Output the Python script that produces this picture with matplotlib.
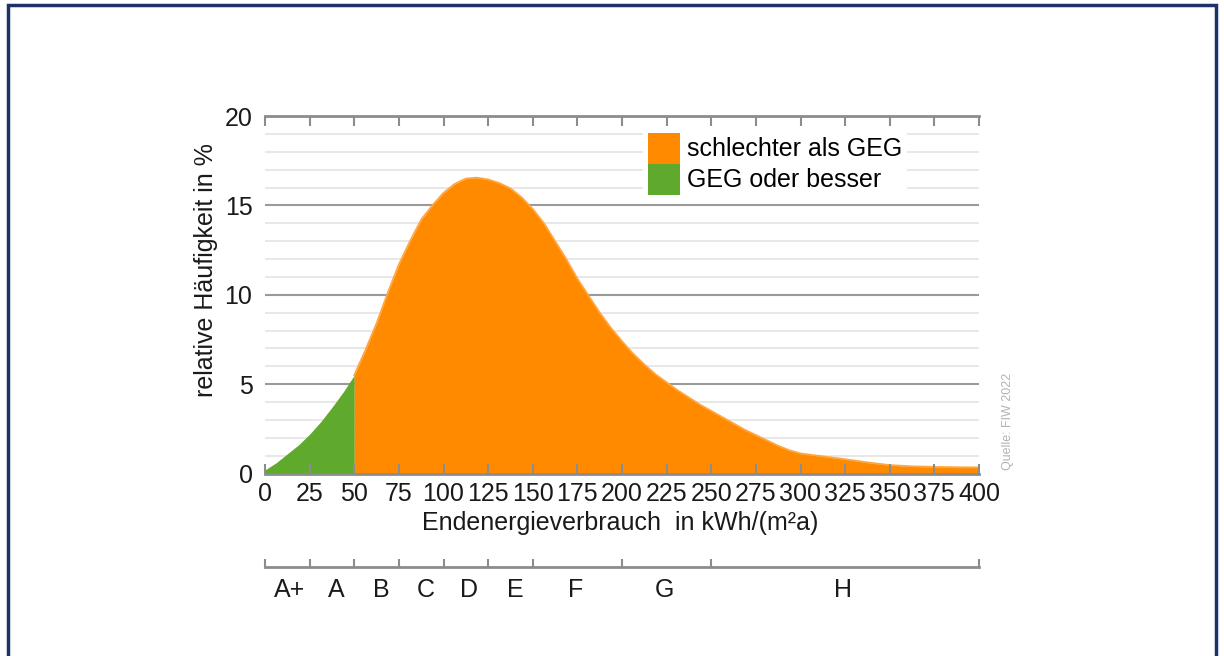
import matplotlib.pyplot as plt
from matplotlib.patches import Patch, Rectangle

plt.rcParams['font.family'] = ['Liberation Sans', 'DejaVu Sans']

# Endenergieverbrauch (kWh/(m2a)) and relative frequency (%)
energy = [0, 6.25, 12.5, 18.75, 25, 31.25, 37.5, 43.75, 50, 56.25, 62.5,
          68.75, 75, 81.25, 87.5, 93.75, 100, 106.25, 112.5, 118.75, 125,
          131.25, 137.5, 143.75, 150, 156.25, 162.5, 168.75, 175, 181.25,
          187.5, 193.75, 200, 206.25, 212.5, 218.75, 225, 231.25, 237.5,
          243.75, 250, 256.25, 262.5, 268.75, 275, 281.25, 287.5, 293.75,
          300, 312.5, 325, 337.5, 350, 362.5, 375, 387.5, 400]
share = [0.2, 0.6, 1.1, 1.6, 2.2, 2.9, 3.7, 4.55, 5.5, 6.9, 8.4,
         10.1, 11.7, 13.0, 14.2, 15.0, 15.7, 16.2, 16.5, 16.55, 16.45,
         16.25, 15.95, 15.45, 14.8, 14.0, 13.0, 12.0, 10.9, 9.95,
         9.0, 8.15, 7.4, 6.7, 6.1, 5.55, 5.1, 4.65, 4.25,
         3.85, 3.5, 3.15, 2.8, 2.45, 2.15, 1.85, 1.55, 1.3,
         1.12, 0.96, 0.8, 0.62, 0.47, 0.4, 0.37, 0.35, 0.34]
geg_limit = 50

x_ticks = list(range(0, 401, 25))
y_ticks = [0, 5, 10, 15, 20]

# energy efficiency classes
class_bounds = [0, 25, 50, 75, 100, 125, 150, 200, 250, 400]
class_names = ['A+', 'A', 'B', 'C', 'D', 'E', 'F', 'G', 'H']
class_label_x = [14, 40, 65, 90, 114.5, 140, 174, 224, 324]

orange = '#ff8a00'
green = '#5fa92c'
grey = '#8c8c8c'

fig = plt.figure(figsize=(12.24, 6.56), dpi=100)
W, H = 1224, 656

# navy frame (bottom edge is outside the picture)
fig.patches.append(Rectangle((8 / W, -0.05), 1208 / W, (656 - 5) / H + 0.05,
                             transform=fig.transFigure, fill=False,
                             edgecolor='#1d3266', lw=2.5))

ax = fig.add_axes([265 / W, (H - 473.5) / H, 714 / W, 357.5 / H])
ax.set_xlim(0, 400)
ax.set_ylim(0, 20)

# grid lines
for v in range(1, 20):
    if v % 5 == 0:
        ax.axhline(v, color='#9a9a9a', lw=1.5, zorder=0.5)
    else:
        ax.axhline(v, color='#e2e2e2', lw=1.1, zorder=0.5)

i50 = energy.index(geg_limit)
ax.fill_between(energy[:i50 + 1], share[:i50 + 1], color=green, lw=0, zorder=1)
ax.fill_between(energy[i50:], share[i50:], color=orange, lw=0, zorder=1)
ax.plot(energy[i50:], share[i50:], color='#ffa640', lw=1.3, zorder=1.1,
        solid_joinstyle='round')

for s in ['left', 'right']:
    ax.spines[s].set_visible(False)
for s in ['top', 'bottom']:
    ax.spines[s].set_color(grey)
    ax.spines[s].set_linewidth(2)

ax.set_xticks(x_ticks)
ax.set_yticks(y_ticks)
ax.tick_params(axis='x', direction='in', top=True, length=7, width=1.5,
               color=grey, labelsize=18, pad=6, labelcolor='#1a1a1a')
ax.tick_params(axis='y', length=0, labelsize=18, pad=9, labelcolor='#1a1a1a')

ax.set_ylabel('relative Häufigkeit in %', fontsize=18, color='#1a1a1a')
ax.yaxis.set_label_coords(-0.066, 0.57)
ax.text(0.497, -0.138, 'Endenergieverbrauch  in kWh/(m²a)', transform=ax.transAxes,
        ha='center', va='center', fontsize=18, color='#1a1a1a')

handles = [Patch(facecolor=orange, label='schlechter als GEG'),
           Patch(facecolor=green, label='GEG oder besser')]
leg = ax.legend(handles=handles, loc='upper left', bbox_to_anchor=(212, 19.35),
                bbox_transform=ax.transData, fontsize=18, frameon=True,
                framealpha=1, facecolor='white', edgecolor='none', fancybox=False,
                borderpad=0.2, borderaxespad=0, handlelength=1.28,
                handleheight=1.53, handletextpad=0.25, labelspacing=0.0)
leg.set_zorder(3)

ax.text(1.04, 0.01, 'Quelle: FIW 2022', transform=ax.transAxes, rotation=90,
        ha='center', va='bottom', fontsize=9, color='#b3b3b3')

# class scale below the chart
ax2 = fig.add_axes([265 / W, (H - 567) / H, 714 / W, 0.02])
ax2.set_xlim(0, 400)
ax2.set_ylim(0, 1)
ax2.patch.set_visible(False)
for s in ['left', 'right', 'top']:
    ax2.spines[s].set_visible(False)
ax2.spines['bottom'].set_color(grey)
ax2.spines['bottom'].set_linewidth(2)
ax2.set_yticks([])
ax2.set_xticks(class_bounds)
ax2.set_xticklabels([])
ax2.set_xticks(class_label_x, minor=True)
ax2.set_xticklabels(class_names, minor=True)
ax2.tick_params(axis='x', which='major', direction='in', length=6, width=1.5,
                color=grey)
ax2.tick_params(axis='x', which='minor', length=0, labelsize=18, pad=8,
                labelcolor='#1a1a1a')

fig.savefig('out.png', dpi=100)
